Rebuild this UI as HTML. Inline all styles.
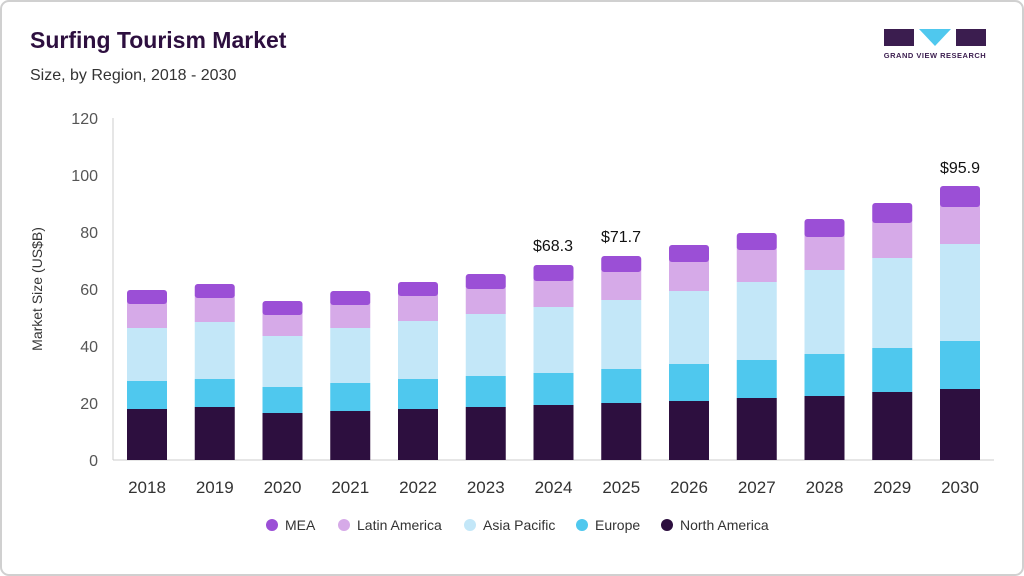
<!DOCTYPE html>
<html><head><meta charset="utf-8"><style>
body{margin:0;background:#fff;}
svg{display:block;font-family:"Liberation Sans",sans-serif;}
</style></head><body>
<svg width="1024" height="576" viewBox="0 0 1024 576">
<rect x="1" y="1" width="1022" height="574" rx="8" fill="#fff" stroke="#d0d0d0" stroke-width="2"/>
<text x="30" y="48" font-size="23" font-weight="bold" fill="#2d0f3f">Surfing Tourism Market</text>
<text x="30" y="80" font-size="16" fill="#333">Size, by Region, 2018 - 2030</text>
<!-- logo -->
<g>
<rect x="884" y="29" width="30" height="17" fill="#3b1d4f"/>
<polygon points="919,29 951,29 935,46" fill="#4fc8ee"/>
<rect x="956" y="29" width="30" height="17" fill="#3b1d4f"/>
<text x="935" y="58" font-size="7.5" font-weight="bold" text-anchor="middle" fill="#3b1d4f" letter-spacing="0.5">GRAND VIEW RESEARCH</text>
</g>
<!-- axes -->
<line x1="113" y1="118" x2="113" y2="460" stroke="#ccc"/>
<line x1="113" y1="460" x2="994" y2="460" stroke="#ccc"/>
<g font-size="16" fill="#555" text-anchor="end">
<text x="98" y="124">120</text><text x="98" y="181">100</text><text x="98" y="238">80</text><text x="98" y="295">60</text><text x="98" y="352">40</text><text x="98" y="409">20</text><text x="98" y="466">0</text>
</g>
<text transform="translate(42,289) rotate(-90)" font-size="14" fill="#333" text-anchor="middle">Market Size (US$B)</text>
<g id="bars"></g>
<g font-size="17" fill="#333" text-anchor="middle" id="xl"></g>
<g font-size="16" fill="#111" text-anchor="middle">
<text x="553" y="251">$68.3</text><text x="621" y="242">$71.7</text><text x="960" y="173">$95.9</text>
</g>
<g font-size="14" fill="#333">
<circle cx="272" cy="525" r="6" fill="#9b4fd6"/><text x="285" y="530">MEA</text>
<circle cx="344" cy="525" r="6" fill="#d6aae8"/><text x="357" y="530">Latin America</text>
<circle cx="470" cy="525" r="6" fill="#c3e7f8"/><text x="483" y="530">Asia Pacific</text>
<circle cx="582" cy="525" r="6" fill="#4fc8ee"/><text x="595" y="530">Europe</text>
<circle cx="667" cy="525" r="6" fill="#2d0f3f"/><text x="680" y="530">North America</text>
</g>
</svg>
<script>
const d=[[409,381,328,301,290],[407,379,322,295,284],[413,387,336,312,301],[411,383,328,302,291],[409,379,321,293,282],[407,376,314,286,274],[405,373,307,278,265],[403,369,300,269,256],[401,364,291,259,245],[398,360,282,247,233],[396,354,270,234,219],[392,348,258,220,203],[389,341,244,204,186]];
const c=["#2d0f3f","#4fc8ee","#c3e7f8","#d6aae8","#9b4fd6"];
const ns="http://www.w3.org/2000/svg";
const g=document.getElementById("bars"),xl=document.getElementById("xl");
d.forEach((t,i)=>{const cx=147+i*67.75;let b=460;
t.forEach((y,k)=>{const r=document.createElementNS(ns,"rect");r.setAttribute("x",cx-20);r.setAttribute("width",40);r.setAttribute("y",y);r.setAttribute("height",b-y);r.setAttribute("fill",c[k]);if(k==4){r.setAttribute("rx",3);r.setAttribute("height",b-y+3);}g.appendChild(r);b=y;});
const r2=document.createElementNS(ns,"rect");
const tx=document.createElementNS(ns,"text");tx.setAttribute("x",cx);tx.setAttribute("y",493);tx.textContent=2018+i;xl.appendChild(tx);});
// redraw LA over rounded MEA bottom
d.forEach((t,i)=>{const cx=147+i*67.75;const r=document.createElementNS(ns,"rect");r.setAttribute("x",cx-20);r.setAttribute("width",40);r.setAttribute("y",t[4]+(t[3]-t[4]));r.setAttribute("height",1);r.setAttribute("fill","none");g.appendChild(r);});
</script>
</body></html>
